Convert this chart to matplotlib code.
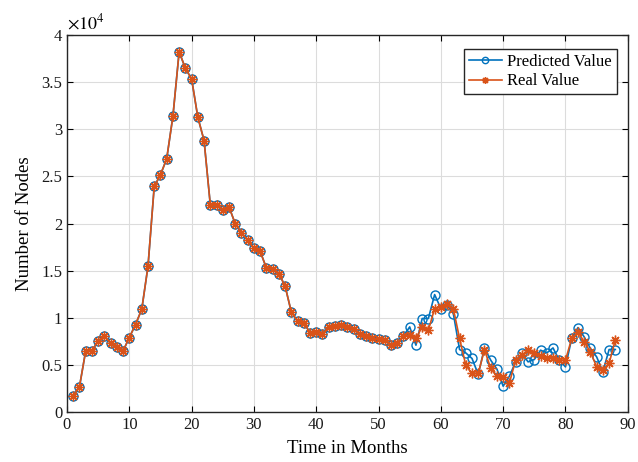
import matplotlib
matplotlib.use("Agg")
import matplotlib.pyplot as plt
from matplotlib.ticker import FuncFormatter, MultipleLocator

plt.rcParams['font.family'] = ['Liberation Serif', 'DejaVu Serif']
plt.rcParams['mathtext.fontset'] = 'stix'

# months 1..88
months = list(range(1, 89))

# common part (months 1-54), in nodes
common = [1730, 2680, 6490, 6490, 7550, 8080, 7280, 6920, 6490, 7910,
          9290, 10910, 15470, 23940, 25180, 26870, 31390, 38240, 36470, 35350,
          31280, 28810, 22000, 22000, 21450, 21770, 19990, 19040, 18220, 17400,
          17060, 15290, 15220, 14690, 13380, 10620, 9640, 9460, 8440, 8510,
          8340, 9040, 9110, 9220, 9040, 8790, 8260, 8050, 7810, 7730,
          7630, 7100, 7340, 8080]

# months 55-88
pred_tail = [9040, 7100, 9930, 9930, 12470, 10990, 11330, 10460, 6640, 6280,
             5690, 4000, 6810, 5510, 4560, 2750, 3810, 5330, 6220, 5330,
             5580, 6570, 6280, 6810, 5510, 4800, 7810, 8970, 7980, 6750,
             5860, 4270, 6640, 6640]
real_tail = [8160, 7810, 9040, 8690, 10990, 11150, 11510, 10990, 7810, 4980,
             4100, 4100, 6640, 4630, 3810, 3680, 3100, 5510, 6040, 6570,
             6280, 5930, 5690, 5790, 5510, 5510, 7810, 8510, 7450, 6390,
             4800, 4520, 5160, 7700]

predicted = common + pred_tail
real = common + real_tail

fig = plt.figure(figsize=(6.38, 4.62), dpi=100)
ax = fig.add_axes([0.105, 0.108, 0.879, 0.816])

ax.plot(months, predicted, color='#0072BD', marker='o', markersize=6.5,
        markerfacecolor='none', markeredgewidth=1.0, linewidth=1.2, label='Predicted Value')
ax.plot(months, real, color='#D95319', marker=(8, 2, 0), markersize=7,
        markeredgewidth=1.0, linewidth=1.2, label='Real Value')

ax.set_xlim(0, 90)
ax.set_ylim(0, 40000)
ax.xaxis.set_major_locator(MultipleLocator(10))
ax.yaxis.set_major_locator(MultipleLocator(5000))
ax.yaxis.set_major_formatter(FuncFormatter(lambda v, _: f"{v/1e4:g}"))
ax.grid(True, color='#dcdcdc', linewidth=0.8)
ax.set_axisbelow(True)
ax.tick_params(direction='in', top=True, right=True, labelsize=12, length=4,
               labelcolor='#1a1a1a')
for s in ax.spines.values():
    s.set_color('#262626')
    s.set_linewidth(1.0)

ax.set_xlabel('Time in Months', fontsize=13.5, labelpad=5)
ax.set_ylabel('Number of Nodes', fontsize=13.5, labelpad=6)
ax.text(0.0, 1.005, r'$\times10^4$', transform=ax.transAxes, fontsize=13,
        ha='left', va='bottom')

leg = ax.legend(loc='upper right', fontsize=12, fancybox=False, framealpha=1,
                edgecolor='#262626', handlelength=2.0, borderpad=0.3,
                labelspacing=0.2, handletextpad=0.3, markerscale=0.7,
                bbox_to_anchor=(0.995, 0.985))
leg.get_frame().set_linewidth(1.0)

fig.savefig('out.png', dpi=100)
